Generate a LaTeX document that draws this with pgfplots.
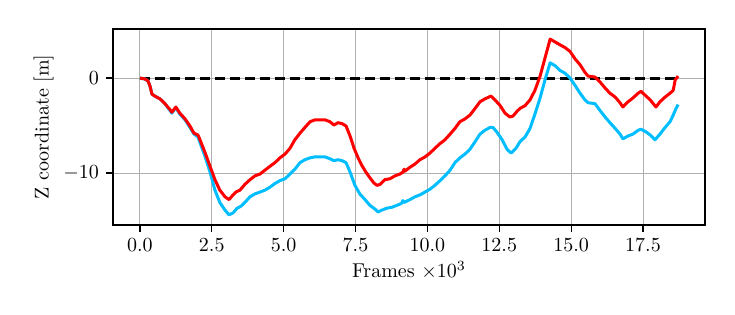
\documentclass[border=0pt]{standalone}
\usepackage{pgfplots}
\pgfplotsset{compat=1.18}
\usepackage{pgfplotstable}
\definecolor{skyc}{RGB}{0,190,255}
\definecolor{gridc}{RGB}{176,176,176}
\pgfplotstableread{
x y
0 0
0.17 -0.1
0.28 -0.3
0.35 -0.84
0.42 -1.7
0.52 -1.9
0.70 -2.2
0.87 -2.7
1.04 -3.3
1.11 -3.6
1.25 -3.05
1.39 -3.7
1.57 -4.3
1.74 -5.05
1.88 -5.8
2.02 -6.0
2.09 -6.5
2.26 -7.8
2.44 -9.3
2.61 -10.7
2.78 -11.8
2.96 -12.5
3.10 -12.8
3.24 -12.3
3.34 -12.0
3.48 -11.8
3.65 -11.2
3.83 -10.7
4.00 -10.3
4.18 -10.1
4.35 -9.7
4.52 -9.3
4.70 -8.9
4.87 -8.4
5.05 -8.0
5.22 -7.4
5.39 -6.5
5.57 -5.8
5.74 -5.2
5.92 -4.6
6.09 -4.4
6.26 -4.4
6.44 -4.4
6.61 -4.6
6.75 -4.95
6.89 -4.7
7.03 -4.8
7.17 -5.05
7.31 -6.1
7.45 -7.4
7.59 -8.4
7.72 -9.2
7.86 -9.9
8.00 -10.5
8.14 -11.05
8.25 -11.3
8.35 -11.2
8.52 -10.7
8.70 -10.6
8.87 -10.3
9.05 -10.1
9.15 -9.9
9.19 -9.6
9.22 -9.8
9.39 -9.4
9.57 -9.05
9.74 -8.6
9.92 -8.3
10.09 -7.9
10.26 -7.4
10.44 -6.9
10.61 -6.5
10.79 -5.9
10.96 -5.3
11.13 -4.6
11.31 -4.3
11.48 -3.9
11.66 -3.2
11.83 -2.5
12.00 -2.2
12.21 -1.9
12.35 -2.3
12.53 -2.9
12.70 -3.7
12.87 -4.1
12.98 -4.0
13.12 -3.5
13.22 -3.2
13.40 -2.9
13.57 -2.3
13.74 -1.3
13.92 0.2
14.09 2.1
14.27 4.1
14.44 3.8
14.61 3.5
14.79 3.2
14.96 2.8
15.14 2.0
15.31 1.4
15.48 0.6
15.59 0.2
15.83 0.1
16.00 -0.4
16.18 -1.05
16.35 -1.6
16.53 -2.0
16.70 -2.6
16.80 -3.05
16.98 -2.5
17.15 -2.1
17.33 -1.6
17.43 -1.4
17.57 -1.8
17.75 -2.3
17.95 -3.05
18.09 -2.5
18.27 -2.0
18.44 -1.6
18.55 -1.3
18.62 -0.2
18.72 0.2
}\redtab
\pgfplotstableread{
x y
0 0
0.17 -0.1
0.28 -0.3
0.35 -0.84
0.42 -1.7
0.52 -1.9
0.70 -2.2
0.87 -2.7
1.04 -3.4
1.11 -3.7
1.25 -3.1
1.39 -3.8
1.57 -4.4
1.74 -5.2
1.88 -5.9
2.02 -6.2
2.09 -6.8
2.26 -8.2
2.44 -9.9
2.61 -11.8
2.78 -13.1
2.96 -13.9
3.10 -14.4
3.24 -14.2
3.38 -13.7
3.51 -13.5
3.65 -13.1
3.83 -12.5
4.00 -12.2
4.18 -12.0
4.35 -11.8
4.52 -11.5
4.70 -11.1
4.87 -10.8
5.05 -10.6
5.22 -10.1
5.39 -9.6
5.57 -8.9
5.74 -8.6
5.92 -8.4
6.09 -8.3
6.26 -8.3
6.44 -8.3
6.61 -8.5
6.75 -8.7
6.89 -8.6
7.03 -8.7
7.17 -8.9
7.31 -9.9
7.48 -11.3
7.65 -12.2
7.83 -12.8
8.00 -13.4
8.18 -13.8
8.28 -14.1
8.42 -13.9
8.59 -13.7
8.77 -13.6
8.94 -13.4
9.10 -13.2
9.15 -12.9
9.19 -13.1
9.39 -12.8
9.57 -12.5
9.74 -12.3
9.92 -12.0
10.09 -11.7
10.26 -11.3
10.44 -10.8
10.61 -10.3
10.79 -9.7
10.96 -8.9
11.13 -8.4
11.31 -8.0
11.48 -7.5
11.66 -6.7
11.83 -5.9
12.00 -5.5
12.18 -5.2
12.28 -5.2
12.42 -5.7
12.60 -6.5
12.77 -7.5
12.91 -7.9
13.08 -7.4
13.22 -6.7
13.40 -6.2
13.57 -5.3
13.74 -3.8
13.92 -2.1
14.09 -0.2
14.27 1.6
14.44 1.3
14.61 0.8
14.79 0.5
14.96 0.0
15.14 -0.8
15.31 -1.6
15.48 -2.3
15.59 -2.6
15.83 -2.7
16.00 -3.4
16.18 -4.1
16.35 -4.7
16.53 -5.3
16.70 -5.9
16.80 -6.4
16.98 -6.1
17.15 -5.9
17.33 -5.5
17.43 -5.4
17.57 -5.6
17.75 -6.0
17.92 -6.5
18.09 -5.9
18.27 -5.2
18.44 -4.6
18.55 -3.9
18.65 -3.2
18.72 -2.8
}\cyantab
\begin{document}
\begin{tikzpicture}
\path[use as bounding box] (-56.5pt,-45pt) rectangle (311pt,112.5pt);
\begin{axis}[
  at={(0,0)}, anchor=south west,
  scale only axis, width=296pt, height=98pt,
  xmin=-0.936, xmax=19.656, ymin=-15.47, ymax=5.16,
  xtick={0,2.5,5,7.5,10,12.5,15,17.5},
  ytick={-10,0},
  xticklabel style={/pgf/number format/.cd, fixed, fixed zerofill, precision=1},
  tick align=outside, tick pos=left,
  major tick length=3.5pt,
  every tick/.style={black, line width=0.6pt},
  grid=major, major grid style={gridc, line width=0.5pt},
  axis line style={black, line width=0.6pt},
  xlabel={Frames $\times 10^3$},
  ylabel={Z coordinate [m]},
  xlabel style={yshift=2pt},
  ylabel style={yshift=-2pt},
  clip=true,
]
\addplot[black, line width=1.5pt, dash pattern=on 5pt off 2.5pt] coordinates {(0,0) (18.72,0)};
\addplot[skyc, line width=1.5pt, line join=round] table[x=x,y=y] {\cyantab};
\addplot[red, line width=1.5pt, line join=round] table[x=x,y=y] {\redtab};
\end{axis}
\end{tikzpicture}
\end{document}
